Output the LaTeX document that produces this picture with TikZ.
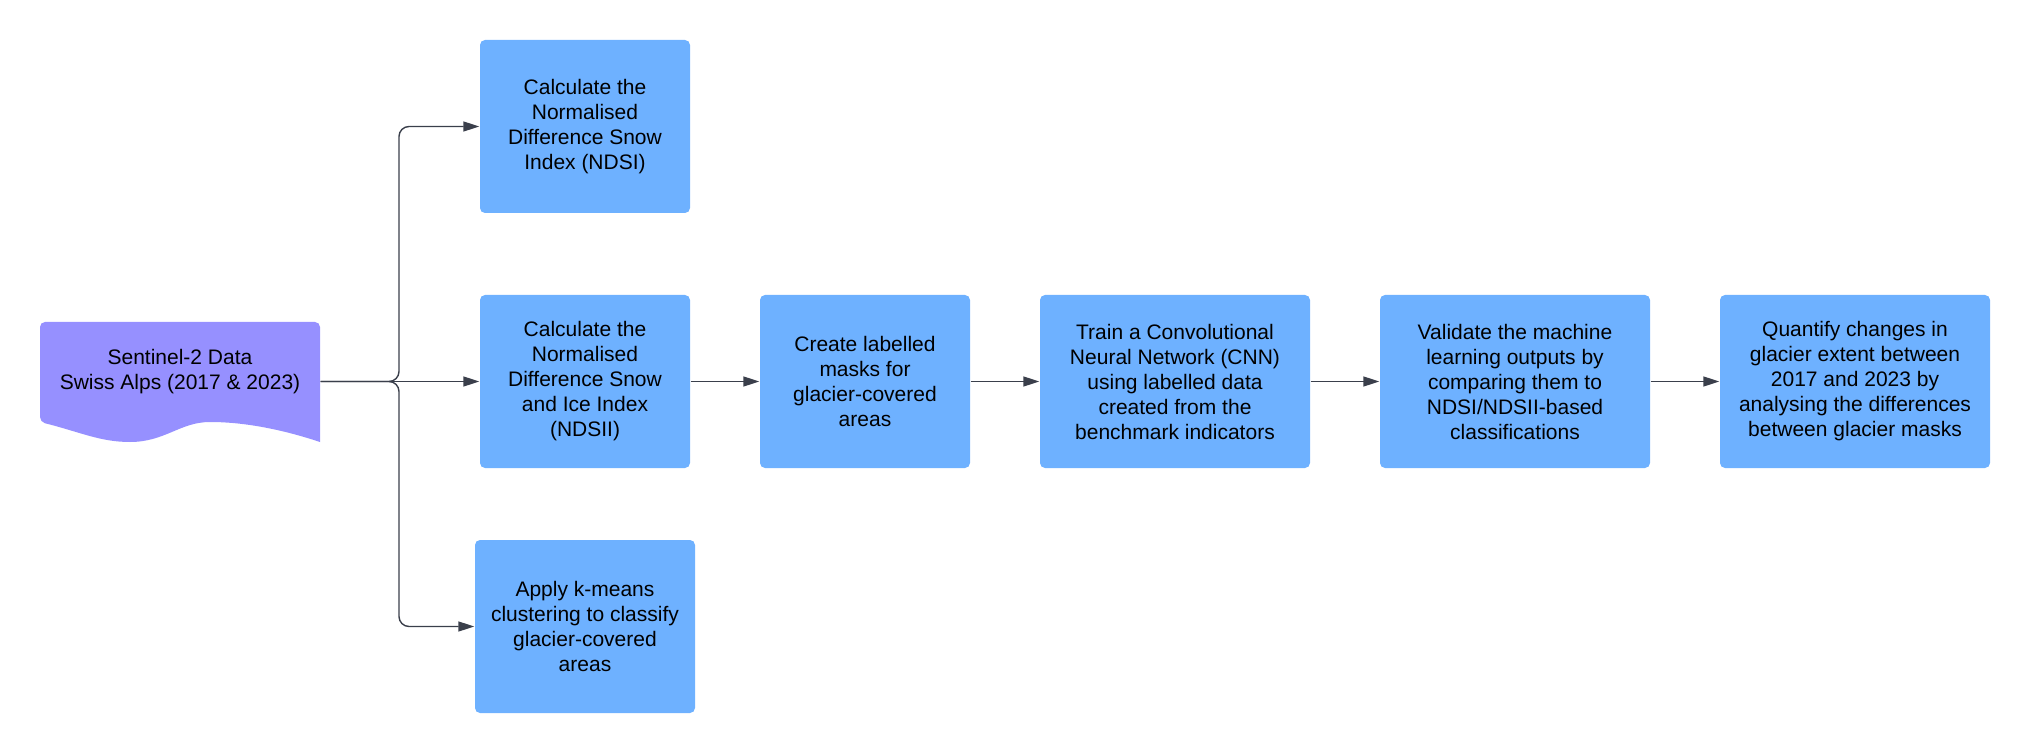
\documentclass[tikz,border=0pt]{standalone}
\usepackage{fontspec}
\setmainfont{Liberation Sans}
\usetikzlibrary{arrows.meta}
\definecolor{boxblue}{HTML}{6EB1FF}
\definecolor{docpurple}{HTML}{9690FF}
\definecolor{linkgray}{HTML}{3A3F4B}

\begin{document}
\begin{tikzpicture}[x=0.5pt,y=-0.5pt,line width=0.7pt,>={Triangle[length=8pt,width=5pt]},
  proc/.style={fill=boxblue,rounded corners=2.5pt,align=center,minimum height=86.5pt,
    inner sep=2pt,font=\fontsize{10.5}{12.5}\selectfont},
  flow/.style={->,draw=linkgray}]
\useasboundingbox (0,0) rectangle (2030,754);
% 数据源（文档形状，底边为波浪线）
\fill[docpurple] (320,442) [rounded corners=2.5pt] -- (320,322) -- (40,322) -- (40,422)
  [sharp corners] .. controls (80,432) and (100,442) .. (130,442)
  .. controls (165,442) and (180,422) .. (210,422)
  .. controls (250,422) and (290,432) .. (320,442);
\node[align=center,inner sep=0pt,minimum width=140pt,minimum height=50pt,
  font=\fontsize{10.5}{12.5}\selectfont] (src) at (180,372)
  {Sentinel-2 Data\\Swiss Alps (2017 \& 2023)};
% 分支列（三种分类方法）
\node[proc,minimum width=105pt] (b1) at (585,126.5)
  {Calculate the\\Normalised\\Difference Snow\\Index (NDSI)};
\node[proc,minimum width=110pt] (b4) at (585,626.5)
  {Apply k-means\\clustering to classify\\glacier-covered\\areas};
% 主流程（中间一行）
\foreach \n/\cx/\w/\txt in {
  b2/585/105pt/{Calculate the\\Normalised\\Difference Snow\\and Ice Index\\(NDSII)},
  b3/865/105pt/{Create labelled\\masks for\\glacier-covered\\areas},
  b5/1175/135pt/{Train a Convolutional\\Neural Network (CNN)\\using labelled data\\created from the\\benchmark indicators},
  b6/1515/135pt/{Validate the machine\\learning outputs by\\comparing them to\\NDSI/NDSII-based\\classifications},
  b7/1855/135pt/{Quantify changes in\\glacier extent between\\2017 and 2023 by\\analysing the differences\\between glacier masks}}
  \node[proc,minimum width=\w] (\n) at (\cx,381.5) {\txt};
% 连线
\coordinate (fork) at (399,381.5);
\draw[flow] (src.east |- b2.west) -- (b2.west);
\draw[flow,rounded corners=5pt] (src.east |- b2.west) -| (fork |- b1.west) -- (b1.west);
\draw[flow,rounded corners=5pt] (src.east |- b2.west) -| (fork |- b4.west) -- (b4.west);
\foreach \a/\b in {b2/b3,b3/b5,b5/b6,b6/b7}
  \draw[flow] (\a) -- (\b);
\end{tikzpicture}
\end{document}
